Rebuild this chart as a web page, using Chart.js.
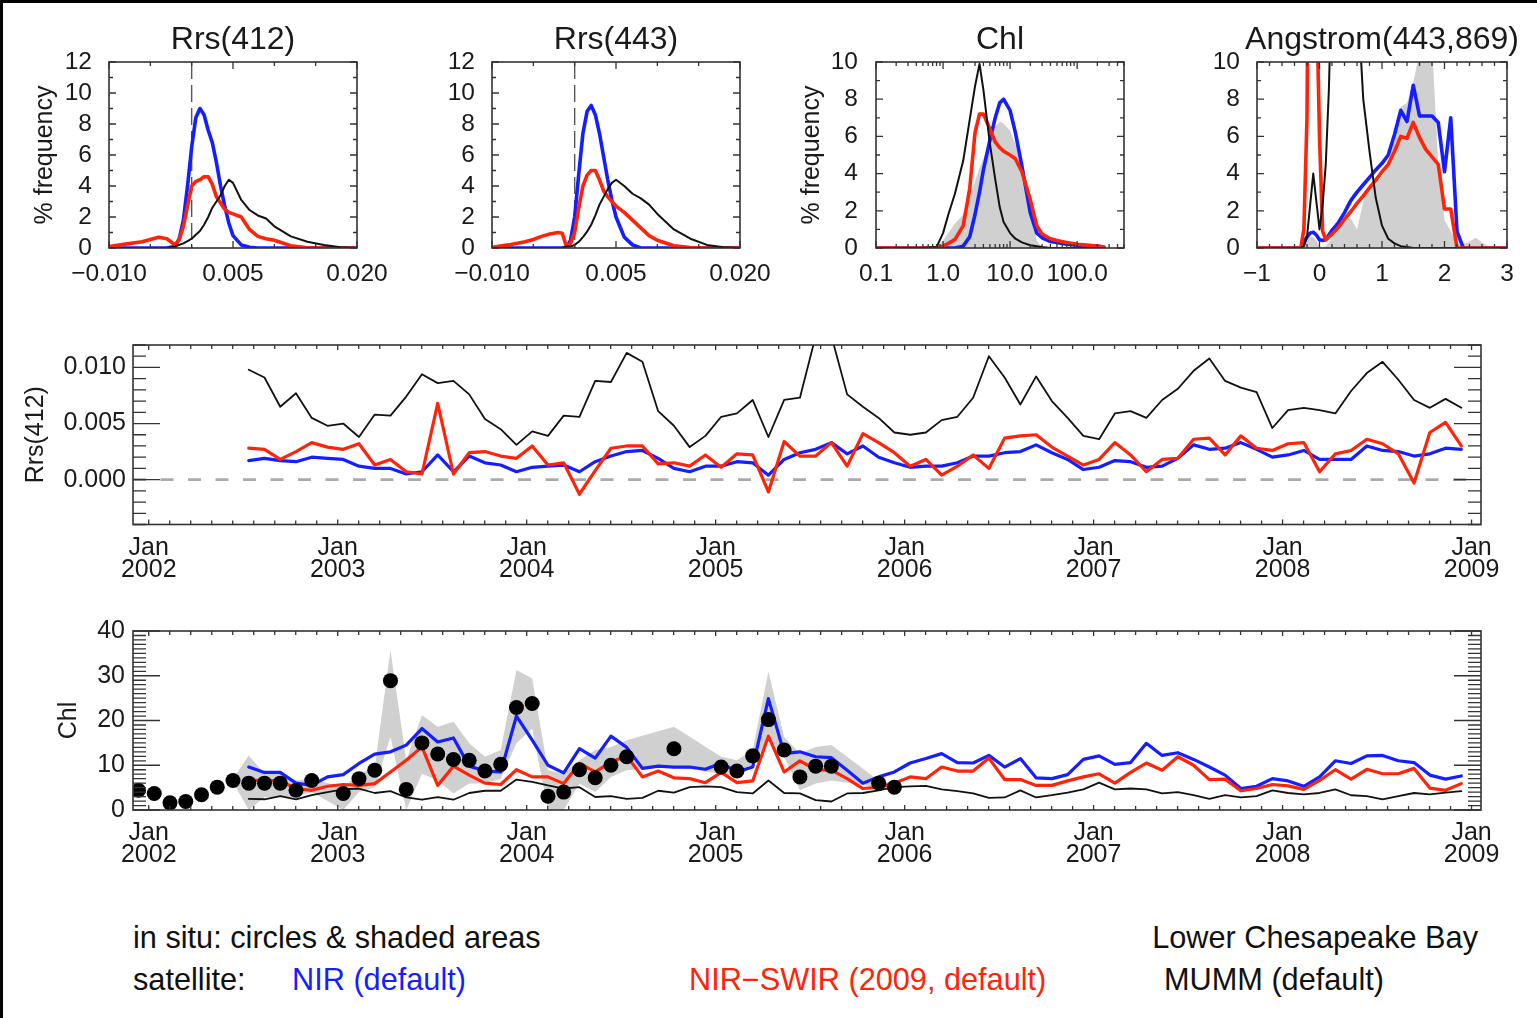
<!DOCTYPE html>
<html>
<head>
<meta charset="utf-8">
<script src="https://cdn.jsdelivr.net/npm/chart.js@4.4.1/dist/chart.umd.min.js"></script>
<style>
html,body{margin:0;padding:0;background:#fff;}
#page{position:relative;width:1537px;height:1018px;overflow:hidden;background:#fff;font-family:"Liberation Sans",Arial,Helvetica,sans-serif;}
#frame{position:absolute;left:0;top:0;width:1537px;height:1018px;border-top:3px solid #000;border-left:3px solid #000;box-sizing:border-box;pointer-events:none;}
canvas{position:absolute;}
.txt{position:absolute;font-size:30.7px;line-height:30px;white-space:nowrap;color:#111;}
</style>
</head>
<body>
<div id="page">
<canvas id="h412" width="370" height="300" style="left:30px;top:0px"></canvas>
<canvas id="h443" width="380" height="300" style="left:400px;top:0px"></canvas>
<canvas id="hchl" width="353" height="300" style="left:797px;top:0px"></canvas>
<canvas id="hang" width="387" height="300" style="left:1150px;top:0px"></canvas>
<canvas id="tsRrs" width="1516" height="290" style="left:21px;top:320px"></canvas>
<canvas id="tsChl" width="1483" height="300" style="left:54px;top:610px"></canvas>
<div class="txt" style="left:133px;top:923px">in situ: circles &amp; shaded areas</div>
<div class="txt" style="right:59px;top:923px">Lower Chesapeake Bay</div>
<div class="txt" style="left:133px;top:965px">satellite:</div>
<div class="txt" style="left:292px;top:965px;color:rgb(20,30,255)">NIR (default)</div>
<div class="txt" style="left:689px;top:965px;color:rgb(255,35,10)">NIR&#8722;SWIR (2009, default)</div>
<div class="txt" style="left:1164px;top:965px">MUMM (default)</div>
<div id="frame"></div>
</div>
<script>
// ===================== DATA =====================
// Histogram of Rrs(412) / Rrs(443): x grid (sr^-1) and % frequency
const rrsGrid = [-0.010,-0.008,-0.006,-0.005,-0.004,-0.003,-0.002,-0.0015,-0.001,-0.0005,0,0.0005,0.001,0.0015,0.002,0.0025,0.003,0.0035,0.004,0.0045,0.005,0.006,0.007,0.008,0.009,0.010,0.012,0.014,0.016,0.018,0.020];
const h412Nir  = [0,0,0,0,0,0,0.1,0.6,1.8,4.0,6.5,8.4,9.0,8.6,7.6,6.8,5.5,4.0,2.7,1.6,0.8,0.2,0.05,0,0,0,0,0,0,0,0];
const h412Swir = [0.1,0.25,0.4,0.55,0.7,0.6,0.2,0.55,1.4,2.7,4.0,4.3,4.4,4.6,4.6,4.1,3.3,2.9,2.5,2.3,2.2,2.0,1.2,0.75,0.6,0.5,0.15,0.02,0,0,0];
const h412Mumm = [0,0,0,0,0,0,0.1,0.2,0.3,0.45,0.6,0.85,1.1,1.5,2.0,2.6,3.0,3.4,4.0,4.4,4.2,3.1,2.45,2.1,1.9,1.4,0.75,0.4,0.2,0.05,0];
const h443Nir  = [0,0,0,0,0,0,0,0,0,0.5,2.0,4.8,7.4,8.8,9.2,8.6,7.4,5.9,4.4,3.1,2.0,0.7,0.2,0,0,0,0,0,0,0,0];
const h443Swir = [0.05,0.2,0.4,0.55,0.75,0.9,1.0,0.95,0.1,0.3,1.0,2.6,4.0,4.7,5.0,5.0,4.4,3.7,3.3,3.0,2.7,2.3,1.8,1.3,0.8,0.5,0.15,0.03,0,0,0];
const h443Mumm = [0,0,0,0,0,0,0,0,0.1,0.1,0.2,0.4,0.7,1.05,1.5,2.1,2.8,3.3,3.8,4.2,4.4,4.0,3.5,3.2,2.8,2.2,1.2,0.6,0.2,0.05,0];

// Histogram of Chl (mg m^-3, log axis)
const chlGrid    = [0.1,0.2,0.5,0.8,1,1.2,1.5,2,2.5,3,3.5,4,5,6,7,8,10,12,15,20,25,30,40,50,70,100,200,250];
const chlHNir    = [0,0,0,0,0,0,0,0.1,0.6,1.8,3.0,4.2,5.8,7.0,7.8,8.0,7.4,6.2,4.4,1.9,0.8,0.55,0.35,0.3,0.2,0.15,0.1,0.05];
const chlHSwir   = [0,0,0,0,0.1,0.25,0.45,1.2,3.2,6.2,7.2,7.2,6.4,5.7,5.4,5.2,5.0,4.8,4.1,2.6,1.2,0.75,0.5,0.4,0.3,0.2,0.1,0.05];
const chlHMumm   = [0,0,0,0.05,0.8,1.8,2.9,4.7,6.9,8.7,9.9,8.5,5.6,3.7,2.2,1.4,0.8,0.5,0.3,0.15,0.1,0.05,0,0,0,0,0,0];
const chlHInsitu = [0,0,0,0.05,0.4,0.8,1.3,1.8,2.8,3.6,4.3,4.8,5.8,6.5,6.8,6.7,6.3,5.6,4.0,1.8,0.4,0,0,0,0,0,0,0];

// Histogram of Angstrom(443,869)
const angGrid   = [-1,-0.5,-0.3,-0.25,-0.2,-0.15,-0.1,-0.05,0,0.05,0.1,0.15,0.2,0.3,0.4,0.5,0.6,0.7,0.8,0.9,1.0,1.1,1.2,1.3,1.4,1.5,1.6,1.7,1.8,1.9,2.0,2.1,2.2,2.3,2.4,2.5,2.6,2.7,2.8,2.9,3.0];
const angNir    = [0,0,0,0.3,0.6,0.8,0.85,0.7,0.45,0.4,0.45,0.7,0.95,1.35,1.9,2.55,3.0,3.4,3.8,4.2,4.55,5.0,6.1,7.4,6.8,8.75,7.1,7.1,7.1,6.75,4.1,7.0,0.9,0,0,0,0,0,0,0,0];
const angSwir   = [0,0,0,1.0,7,30,30,14,6,0.9,0.45,0.6,0.75,1.1,1.55,1.95,2.4,2.8,3.25,3.65,4.1,4.5,5.2,6.0,5.9,6.75,5.95,5.3,4.9,4.5,2.1,2.1,0,0,0,0,0,0,0,0,0];
const angMumm   = [0,0,0,0.1,0.6,2.3,4.0,2.5,1.0,2.3,4.5,8.5,15,22,25,22,14,8.0,5.2,2.7,1.2,0.5,0.25,0.1,0.05,0,0,0,0,0,0,0,0,0,0,0,0,0,0,0,0];
const angInsitu = [0,0,0,0.2,0.5,0.6,0.6,0.4,0.1,0,0.1,0.3,0.6,1.0,1.6,1.6,1.0,2.5,3.4,3.6,3.8,4.5,5.8,7.6,7.8,8.9,10.5,12,11,4.5,1.5,0.9,0.25,0.2,0.35,0.55,0.3,0.1,0,0,0];

// Monthly satellite time series: months counted from Jan 2002 (Jul 2002 .. Dec 2008)
const satMonths = Array.from({length: 78}, (_, i) => 6 + i);
const rrsNir = [0.0017,0.0019,0.0017,0.0016,0.0020,0.0019,0.0018,0.0012,0.0010,0.0010,0.0005,0.0007,0.0022,0.0007,0.0021,0.0015,0.0013,0.0007,
  0.0011,0.0012,0.0013,0.0007,0.0016,0.0021,0.0025,0.0026,0.0019,0.0010,0.0007,0.0012,0.0012,0.0016,0.0015,0.0004,0.0018,0.0024,0.0027,0.0033,0.0023,0.0030,0.0020,0.0015,0.0011,0.0012,0.0012,0.0015,0.0021,0.0021,0.0024,0.0025,
  0.0031,0.0024,0.0018,0.0009,0.0011,0.0017,0.0016,0.0011,0.0012,0.0019,0.0031,0.0027,0.0028,0.0033,0.0027,0.0020,0.0022,0.0026,0.0018,0.0018,0.0018,0.0030,0.0026,0.0025,0.0021,0.0023,0.0028,0.0027];
const rrsSwir = [0.0028,0.0027,0.0018,0.0025,0.0033,0.0029,0.0027,0.0032,0.0013,0.0018,0.0007,0.0005,0.0068,0.0005,0.0024,0.0025,0.0021,0.0019,
  0.0030,0.0013,0.0015,-0.0013,0.0008,0.0028,0.0030,0.0030,0.0014,0.0015,0.0012,0.0022,0.0011,0.0023,0.0022,-0.0011,0.0034,0.0021,0.0021,0.0033,0.0012,0.0041,0.0033,0.0024,0.0012,0.0018,0.0004,0.0012,0.0022,0.0010,0.0037,0.0039,
  0.0040,0.0029,0.0021,0.0013,0.0018,0.0033,0.0022,0.0007,0.0018,0.0019,0.0036,0.0037,0.0022,0.0039,0.0028,0.0026,0.0032,0.0033,0.0007,0.0023,0.0026,0.0036,0.0032,0.0023,-0.0003,0.0042,0.0051,0.0030];
const rrsMumm = [0.0098,0.0091,0.0065,0.0077,0.0055,0.0048,0.0050,0.0038,0.0058,0.0057,0.0074,0.0094,0.0086,0.0088,0.0076,0.0054,0.0045,0.0031,
  0.0043,0.0039,0.0057,0.0056,0.0088,0.0087,0.0113,0.0105,0.0061,0.0048,0.0029,0.0039,0.0056,0.0059,0.0071,0.0038,0.0071,0.0073,0.0128,0.0128,0.0076,0.0065,0.0055,0.0042,0.0040,0.0042,0.0053,0.0056,0.0073,0.0110,0.0091,0.0067,
  0.0092,0.0070,0.0055,0.0039,0.0036,0.0059,0.0061,0.0055,0.0071,0.0081,0.0097,0.0108,0.0088,0.0082,0.0078,0.0046,0.0062,0.0064,0.0062,0.0059,0.0079,0.0095,0.0105,0.0089,0.0071,0.0064,0.0072,0.0064];
const chlNir = [9.6,8.4,8.4,6.0,5.5,7.4,7.9,10.4,12.5,13.0,14.5,18.2,15.2,16.1,9.8,8.7,8.5,21.0,
  15.6,10.0,8.3,13.7,11.6,16.5,14.0,9.3,9.8,9.6,9.6,9.1,10.5,8.5,9.6,24.9,12.6,13.0,11.9,11.7,8.9,6.0,7.4,8.5,10.5,11.5,12.6,10.6,10.5,12.2,9.6,11.5,
  7.2,7.0,7.9,11.3,12.1,10.2,10.6,14.9,12.2,12.8,11.3,9.6,7.8,4.8,5.3,7.0,6.5,5.3,7.4,11.0,10.4,12.1,12.2,11.0,10.6,7.8,6.9,7.6];
const chlSwir = [6.6,6.6,6.5,4.8,4.4,5.3,5.7,5.5,5.9,8.5,11.1,14.1,5.5,9.8,7.8,6.0,5.7,9.0,
  7.4,7.4,5.9,10.4,8.5,10.7,12.1,7.4,8.7,7.2,7.0,6.1,8.4,6.1,6.5,16.5,8.5,11.0,9.0,8.9,7.0,4.8,5.1,6.0,7.4,7.0,9.6,8.7,8.7,11.6,6.8,6.8,
  5.5,5.5,6.5,7.4,8.1,6.0,8.4,10.5,8.9,11.9,10.0,6.8,6.9,4.3,4.8,5.7,5.4,4.6,6.6,9.0,6.9,9.1,8.1,8.1,9.3,4.9,4.4,5.9];
const chlMumm = [2.5,2.4,3.1,2.4,3.3,4.0,4.6,4.8,3.8,4.2,2.8,2.3,2.9,2.3,3.8,4.3,4.3,6.8,
  6.3,5.5,4.8,5.1,2.9,3.1,2.5,2.7,4.3,3.9,5.1,5.3,5.1,4.0,3.7,6.6,3.8,3.7,2.2,1.9,3.7,3.8,4.4,5.1,5.3,5.4,4.6,4.2,3.7,2.7,2.8,4.4,
  2.8,3.3,3.9,4.6,6.1,4.6,4.8,4.6,3.7,4.0,3.3,2.5,3.3,2.8,3.1,4.4,3.8,3.5,3.8,4.6,3.3,3.1,2.4,3.1,3.8,3.5,3.9,4.2];

// In situ chlorophyll (circles) and its shaded range
const insituMonths = [-1,0,1,2,3,4,5,6,7,8,9,10,12,13,14,15,16,17,18,19,20,21,22,23,24,25,26,27,28,29,30,33,36,37,38,39,40,41,42,43,46,47];
const insituChl    = [4.4,3.7,1.6,1.9,3.4,5.1,6.6,6.0,6.0,6.0,4.4,6.6,3.7,7.0,8.9,28.9,4.6,15.0,12.5,11.3,11.1,8.7,10.2,22.9,23.8,3.1,4.0,9.0,7.2,10.0,11.9,13.7,9.6,8.7,12.1,20.2,13.4,7.4,9.8,9.8,6.0,5.1];
const bandMonths = [5,6,7,8,9,10,12,13,14,15,16,17,18,19,20,21,22,23,24,25,26,27,28,29,30,33,36,37,38,39,40,41,42,43,46,47];
const bandHi = [7.0,12.2,8.1,8.1,6.6,7.0,5.1,8.1,9.6,35.7,11.1,21.2,18.6,19.7,14.9,11.9,13.4,31.3,29.4,8.9,8.1,11.1,13.4,14.1,15.6,18.6,11.9,11.1,13.4,30.9,16.3,12.6,14.1,14.5,6.6,5.9];
const bandLo = [6.2,0,2.9,2.9,2.9,4.0,0,4.0,5.1,16.3,0,8.1,6.6,3.7,5.9,5.9,7.0,14.9,18.2,0,0,5.9,4.0,7.4,8.9,9.6,8.1,7.4,9.6,16.3,11.9,4.4,5.9,6.6,5.1,4.4];

// Tick values and labels
const rrsHistTicks = [-0.010, 0.005, 0.020];
const rrsHistLabels = ['\u22120.010', '0.005', '0.020'];
const rrsHistMinor = [-0.005, 0.000, 0.010, 0.015];
const chlHistTicks = [0.1, 1, 10, 100];
const chlHistLabels = ['0.1', '1.0', '10.0', '100.0'];
const angTicks = [-1, 0, 1, 2, 3];
const angLabels = ['\u22121', '0', '1', '2', '3'];
const freqTicks12 = [0, 2, 4, 6, 8, 10, 12];
const freqTicks10 = [0, 2, 4, 6, 8, 10];
const yearTicks = [0, 12, 24, 36, 48, 60, 72, 84];
const yearLabels = [['Jan','2002'],['Jan','2003'],['Jan','2004'],['Jan','2005'],['Jan','2006'],['Jan','2007'],['Jan','2008'],['Jan','2009']];
const rrsTsTicks = [0, 0.005, 0.010];
const rrsTsLabels = ['0.000', '0.005', '0.010'];
const chlTsTicks = [0, 10, 20, 30, 40];
const chlTsLabels = ['0', '10', '20', '30', '40'];

// ===================== STYLE =====================
const FONT = '"Liberation Sans", Arial, Helvetica, sans-serif';
const INK = '#1a1a1a';
const BLUE = 'rgb(20,30,255)';
const RED = 'rgb(255,35,10)';
const BLACK = '#111111';
const GREY = '#d0d0d0';
const MID = 0.35;   // plotting position inside each month
Chart.defaults.font.family = FONT;
Chart.defaults.color = INK;

function range(a, b, step) { const r = []; for (let v = a; v <= b + 1e-9; v += step) r.push(+v.toFixed(6)); return r; }
const logMinor = [];
[0.1, 1, 10, 100].forEach(d => { for (let k = 2; k <= 9; k++) logMinor.push(d * k); });
const yearMinor = [];
yearTicks.forEach(y => { for (let k = 1; k < 9; k++) yearMinor.push(y + k * 12 / 9); });

// Plugin: IDL-like box with inward ticks, reference lines, panel title
const idlFrame = {
  id: 'idlFrame',
  beforeDatasetsDraw(chart, args, o) {
    const {ctx, chartArea: a} = chart;
    const xs = chart.scales.x, ys = chart.scales.y;
    ctx.save();
    ctx.beginPath(); ctx.rect(a.left, a.top, a.width, a.height); ctx.clip();
    (o.hLines || []).forEach(l => {
      const y = ys.getPixelForValue(l.value);
      ctx.setLineDash(l.dash); ctx.strokeStyle = l.color; ctx.lineWidth = l.width;
      ctx.beginPath(); ctx.moveTo(a.left, y); ctx.lineTo(a.right, y); ctx.stroke();
    });
    (o.vLines || []).forEach(l => {
      const x = xs.getPixelForValue(l.value);
      ctx.setLineDash(l.dash); ctx.strokeStyle = l.color; ctx.lineWidth = l.width;
      ctx.beginPath(); ctx.moveTo(x, a.top); ctx.lineTo(x, a.bottom); ctx.stroke();
    });
    ctx.restore();
  },
  afterDatasetsDraw(chart, args, o) {
    const {ctx, chartArea: a} = chart;
    const xs = chart.scales.x, ys = chart.scales.y;
    ctx.save();
    ctx.strokeStyle = '#333'; ctx.lineWidth = 1.3;
    ctx.beginPath();
    const tx = (vals, len) => (vals || []).forEach(v => {
      const p = xs.getPixelForValue(v);
      if (p < a.left - 0.5 || p > a.right + 0.5) return;
      ctx.moveTo(p, a.bottom); ctx.lineTo(p, a.bottom - len);
      ctx.moveTo(p, a.top); ctx.lineTo(p, a.top + len);
    });
    const ty = (vals, len) => (vals || []).forEach(v => {
      const p = ys.getPixelForValue(v);
      if (p < a.top - 0.5 || p > a.bottom + 0.5) return;
      ctx.moveTo(a.left, p); ctx.lineTo(a.left + len, p);
      ctx.moveTo(a.right, p); ctx.lineTo(a.right - len, p);
    });
    tx(o.xMajor, o.xMajorLen); tx(o.xMinor, o.xMinorLen);
    ty(o.yMajor, o.yMajorLen); ty(o.yMinor, o.yMinorLen);
    ctx.stroke();
    ctx.lineWidth = 1.6;
    ctx.strokeRect(a.left, a.top, a.width, a.height);
    if (o.title) {
      ctx.fillStyle = INK;
      ctx.font = o.titleSize + 'px ' + FONT;
      ctx.textAlign = 'center'; ctx.textBaseline = 'alphabetic';
      ctx.fillText(o.title, (a.left + a.right) / 2, a.top - o.titleGap);
    }
    ctx.restore();
  }
};
Chart.register(idlFrame);

const pts = (xs, ys) => xs.map((x, i) => ({x: x, y: ys[i]}));
function lineDs(data, color, width, order, extra) {
  return Object.assign({data, borderColor: color, backgroundColor: color, borderWidth: width, pointRadius: 0,
    fill: false, tension: 0, order, borderJoinStyle: 'round', borderCapStyle: 'round'}, extra || {});
}

function makeChart(id, c) {
  return new Chart(document.getElementById(id), {
    type: 'line',
    data: {datasets: c.datasets},
    options: {
      responsive: false, maintainAspectRatio: false, animation: false, events: [],
      layout: {padding: {left: 0, top: c.padTop, right: c.padRight, bottom: 0}},
      plugins: {legend: {display: false}, tooltip: {enabled: false}, idlFrame: c.frame},
      scales: {
        x: {
          type: c.xType || 'linear', min: c.xMin, max: c.xMax,
          grid: {display: false, drawTicks: false, tickLength: 0}, border: {display: false},
          afterBuildTicks: s => { s.ticks = c.xTicks.map(v => ({value: v})); },
          ticks: {font: {size: c.tickSize, lineHeight: c.xLineHeight || 1.2}, color: INK, padding: c.xPad,
                  maxRotation: 0, minRotation: 0, autoSkip: false, callback: (v, i) => c.xLabels[i]},
          afterFit: s => { s.height = c.xH; s.paddingLeft = 0; s.paddingRight = 0; s.paddingTop = 0; s.paddingBottom = 0; }
        },
        y: {
          type: 'linear', min: c.yMin, max: c.yMax,
          grid: {display: false, drawTicks: false, tickLength: 0}, border: {display: false},
          afterBuildTicks: s => { s.ticks = c.yTicks.map(v => ({value: v})); },
          ticks: {font: {size: c.tickSize}, color: INK, padding: c.yPad, autoSkip: false, callback: (v, i) => c.yLabels[i]},
          title: c.yTitle ? {display: true, text: c.yTitle, font: {size: 25}, color: INK, padding: 0} : {display: false},
          afterFit: s => { s.width = c.yW; s.paddingLeft = 0; s.paddingRight = 0; s.paddingTop = 0; s.paddingBottom = 0; }
        }
      }
    }
  });
}

const histDs = (grid, nir, swir, mumm, insitu) => {
  const ds = [
    lineDs(pts(grid, nir), BLUE, 3.6, 4),
    lineDs(pts(grid, swir), RED, 3.6, 3),
    lineDs(pts(grid, mumm), BLACK, 2.0, 2)
  ];
  if (insitu) ds.push({data: pts(grid, insitu), borderWidth: 0, borderColor: GREY, backgroundColor: GREY,
    pointRadius: 0, fill: 'origin', tension: 0, order: 6});
  return ds;
};
const freqLabels12 = freqTicks12.map(String);
const freqLabels10 = freqTicks10.map(String);
const histFrame = (title, xMajor, xMinor, yMajor, yMinor, vLines) => ({
  title, titleSize: 32, titleGap: 13.5, xMajor, xMinor, yMajor, yMinor,
  xMajorLen: 7, xMinorLen: 4, yMajorLen: 7, yMinorLen: 4, vLines: vLines || []
});
const zeroV = [{value: 0, dash: [17, 6], color: '#555', width: 1.4}];

makeChart('h412', {
  datasets: histDs(rrsGrid, h412Nir, h412Swir, h412Mumm),
  xMin: -0.010, xMax: 0.020, xTicks: rrsHistTicks, xLabels: rrsHistLabels,
  yMin: 0, yMax: 12, yTicks: freqTicks12, yLabels: freqLabels12, yTitle: '% frequency',
  padTop: 62, padRight: 43, yW: 79, xH: 52, tickSize: 24.5, xPad: 12, yPad: 17,
  frame: histFrame('Rrs(412)', rrsHistTicks, rrsHistMinor, freqTicks12, [1,3,5,7,9,11], zeroV)
});
makeChart('h443', {
  datasets: histDs(rrsGrid, h443Nir, h443Swir, h443Mumm),
  xMin: -0.010, xMax: 0.020, xTicks: rrsHistTicks, xLabels: rrsHistLabels,
  yMin: 0, yMax: 12, yTicks: freqTicks12, yLabels: freqLabels12,
  padTop: 62, padRight: 40, yW: 92, xH: 52, tickSize: 24.5, xPad: 12, yPad: 17,
  frame: histFrame('Rrs(443)', rrsHistTicks, rrsHistMinor, freqTicks12, [1,3,5,7,9,11], zeroV)
});
makeChart('hchl', {
  datasets: histDs(chlGrid, chlHNir, chlHSwir, chlHMumm, chlHInsitu),
  xType: 'logarithmic', xMin: 0.1, xMax: 500, xTicks: chlHistTicks, xLabels: chlHistLabels,
  yMin: 0, yMax: 10, yTicks: freqTicks10, yLabels: freqLabels10, yTitle: '% frequency',
  padTop: 62, padRight: 26, yW: 79, xH: 52, tickSize: 24.5, xPad: 12, yPad: 18,
  frame: histFrame('Chl', chlHistTicks, logMinor, freqTicks10, [1,3,5,7,9])
});
makeChart('hang', {
  datasets: histDs(angGrid, angNir, angSwir, angMumm, angInsitu),
  xMin: -1, xMax: 3, xTicks: angTicks, xLabels: angLabels,
  yMin: 0, yMax: 10, yTicks: freqTicks10, yLabels: freqLabels10,
  padTop: 62, padRight: 30, yW: 107, xH: 52, tickSize: 24.5, xPad: 12, yPad: 17,
  frame: histFrame('Angstrom(443,869)', angTicks, range(-1, 3, 0.2), freqTicks10, [1,3,5,7,9])
});

const satX = satMonths.map(m => m + MID);
makeChart('tsRrs', {
  datasets: [
    lineDs(pts(satX, rrsNir), BLUE, 3.2, 4),
    lineDs(pts(satX, rrsSwir), RED, 3.2, 3),
    lineDs(pts(satX, rrsMumm), BLACK, 1.8, 2)
  ],
  xMin: -1, xMax: 84.6, xTicks: yearTicks, xLabels: yearLabels, xLineHeight: 0.88,
  yMin: -0.004, yMax: 0.012, yTicks: rrsTsTicks, yLabels: rrsTsLabels, yTitle: 'Rrs(412)',
  padTop: 25, padRight: 56, yW: 112, xH: 85.5, tickSize: 25, xPad: 13, yPad: 7,
  frame: {xMajor: yearTicks, xMinor: yearMinor, yMajor: rrsTsTicks, yMinor: range(-0.004, 0.012, 0.001),
          xMajorLen: 5, xMinorLen: 4, yMajorLen: 27, yMinorLen: 13,
          hLines: [{value: 0, dash: [13, 14.5], color: '#aaaaaa', width: 2.6}]}
});
makeChart('tsChl', {
  datasets: [
    {data: pts(bandMonths.map(m => m + MID), bandHi), borderWidth: 0, borderColor: GREY, backgroundColor: GREY,
     pointRadius: 0, fill: '+1', tension: 0, order: 8},
    {data: pts(bandMonths.map(m => m + MID), bandLo), borderWidth: 0, borderColor: GREY, backgroundColor: GREY,
     pointRadius: 0, fill: false, tension: 0, order: 9},
    lineDs(pts(satX, chlNir), BLUE, 3.2, 4),
    lineDs(pts(satX, chlSwir), RED, 3.2, 3),
    lineDs(pts(satX, chlMumm), BLACK, 1.8, 2),
    {data: pts(insituMonths.map(m => m + MID), insituChl), showLine: false, pointRadius: 7.5,
     pointBackgroundColor: '#000', pointBorderWidth: 0, borderColor: '#000', backgroundColor: '#000', order: 1}
  ],
  xMin: -1, xMax: 84.6, xTicks: yearTicks, xLabels: yearLabels, xLineHeight: 0.88,
  yMin: 0, yMax: 40, yTicks: chlTsTicks, yLabels: chlTsLabels, yTitle: 'Chl',
  padTop: 21, padRight: 56, yW: 79, xH: 100, tickSize: 25, xPad: 12, yPad: 8,
  frame: {xMajor: yearTicks, xMinor: yearMinor, yMajor: chlTsTicks, yMinor: range(0, 40, 1),
          xMajorLen: 5, xMinorLen: 4, yMajorLen: 27, yMinorLen: 13}
});
</script>
</body>
</html>
